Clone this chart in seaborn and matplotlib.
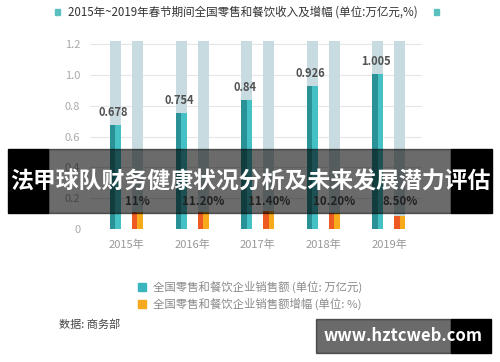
import matplotlib.pyplot as plt
import numpy as np
import pandas as pd
import seaborn as sns
from matplotlib.patches import Patch, Rectangle

years = ["2015年", "2016年", "2017年", "2018年", "2019年"]
sales = [0.678, 0.754, 0.84, 0.926, 1.005]
growth = [11.0, 11.2, 11.4, 10.2, 8.5]
growth_labels = ["11%", "11.20%", "11.40%", "10.20%", "8.50%"]
bg_height = 1.22

title = "2015年~2019年春节期间全国零售和餐饮收入及增幅 (单位:万亿元,%)"
legend_labels = ["全国零售和餐饮企业销售额 (单位: 万亿元)",
                 "全国零售和餐饮企业销售额增幅 (单位: %)"]
source = "数据: 商务部"
banner = "法甲球队财务健康状况分析及未来发展潜力评估"
watermark = "www.hztcweb.com"

sns.set_style("white")
plt.rcParams['font.family'] = ['Noto Sans CJK SC', 'DejaVu Sans']

fig = plt.figure(figsize=(5, 3.62), dpi=100)
ax = fig.add_axes([0.18, 0.3674, 0.664, 0.5193])

width = 0.503

# light background columns: teal slot, gap, orange slot
bg = pd.DataFrame({
    "year": years * 3,
    "value": [bg_height] * 5 + [0] * 5 + [bg_height] * 5,
    "slot": ["a"] * 5 + ["gap"] * 5 + ["b"] * 5,
})
sns.barplot(data=bg, x="year", y="value", hue="slot", order=years,
            hue_order=["a", "gap", "b"],
            palette={"a": "#c8dbe1", "gap": "#ffffff", "b": "#c8dbe1"},
            width=width, saturation=1, errorbar=None, legend=False,
            linewidth=0, ax=ax)

# two-tone value bars: each bar is two halves
pct = [g / 100 for g in growth]
parts = ["t1", "t2", "g1", "g2", "o1", "o2"]
vals = [sales, sales, [0] * 5, [0] * 5, pct, pct]
fg = pd.DataFrame({
    "year": years * 6,
    "value": [v for vs in vals for v in vs],
    "part": [p for p in parts for _ in years],
})
sns.barplot(data=fg, x="year", y="value", hue="part", order=years,
            hue_order=parts,
            palette={"t1": "#2a9196", "t2": "#45c0c5", "g1": "#ffffff",
                     "g2": "#ffffff", "o1": "#ee5b22", "o2": "#f7aa1c"},
            width=width, saturation=1, errorbar=None, legend=False,
            linewidth=0, ax=ax)

step = width / 6
for i in range(len(years)):
    ax.text(i - 2 * step - 0.03, sales[i] + 0.08, f"{sales[i]:g}",
            ha="center", va="center", fontsize=8, color="#505050",
            fontweight="bold")
    ax.text(i + 2 * step, 0.18, growth_labels[i], ha="center", va="center",
            fontsize=8.3, color="#505050", fontweight="bold")

ax.set_xlim(-0.556, 4.503)
ax.set_ylim(0, bg_height)
ax.set_yticks([0, 0.2, 0.4, 0.6, 0.8, 1.0, 1.2])
ax.set_yticklabels(["0", "0.2", "0.4", "0.6", "0.8", "1.0", "1.2"])
ax.yaxis.grid(True, color="#e6e6e6", linewidth=0.8)
ax.set_axisbelow(True)
ax.tick_params(axis="y", length=0, pad=7, labelsize=8, labelcolor="#aaaaaa")
ax.tick_params(axis="x", length=0, pad=8, labelsize=8, labelcolor="#999999")
ax.set_xlabel("")
ax.set_ylabel("")
sns.despine(ax=ax, left=True, bottom=True)

# title with markers
fig.text(0.136, 1 - 12 / 362, title, ha="left", va="center", fontsize=8.3,
         color="#333333")
for xm in [57, 436]:
    fig.patches.append(Rectangle((xm / 500 - 0.005, 1 - 15 / 362), 0.01,
                                 6 / 362, transform=fig.transFigure,
                                 color="#5cc0c0"))

# legend
handles = [Patch(color="#3ab5bd"), Patch(color="#f5a91e")]
fig.legend(handles, legend_labels, loc="upper left",
           bbox_to_anchor=(128 / 500, 1 - 271 / 362), frameon=False,
           fontsize=8.2, labelcolor="#8a8a8a", handlelength=0.7,
           handleheight=0.7, handletextpad=0.6, labelspacing=0.35)

fig.text(59 / 500, 1 - 325 / 362, source, ha="left", va="center",
         fontsize=8, color="#444444")

# overlay banner
fig.patches.append(Rectangle((8 / 500, 1 - 213 / 362), 40 / 500, 64 / 362,
                             transform=fig.transFigure, color="black",
                             zorder=5))
fig.patches.append(Rectangle((451 / 500, 1 - 213 / 362), 41 / 500, 64 / 362,
                             transform=fig.transFigure, color="black",
                             zorder=5))
fig.patches.append(Rectangle((48 / 500, 1 - 213 / 362), 403 / 500, 64 / 362,
                             transform=fig.transFigure, color="black",
                             alpha=0.58, zorder=5))
fig.text(0.5, 1 - 182 / 362, banner, ha="center", va="center",
         fontsize=16.5, fontweight="bold", color="white", zorder=6)

# watermark
fig.patches.append(Rectangle((316 / 500, 1 - 353 / 362), 135 / 500, 34 / 362,
                             transform=fig.transFigure, color="black",
                             alpha=0.58, zorder=5))
fig.patches.append(Rectangle((451 / 500, 1 - 353 / 362), 40 / 500, 34 / 362,
                             transform=fig.transFigure, color="black",
                             zorder=5))
fig.text(403 / 500, 1 - 336 / 362, watermark, ha="center", va="center",
         fontsize=12, fontweight="bold", color="white", zorder=6)

fig.savefig("out.png", dpi=100)
